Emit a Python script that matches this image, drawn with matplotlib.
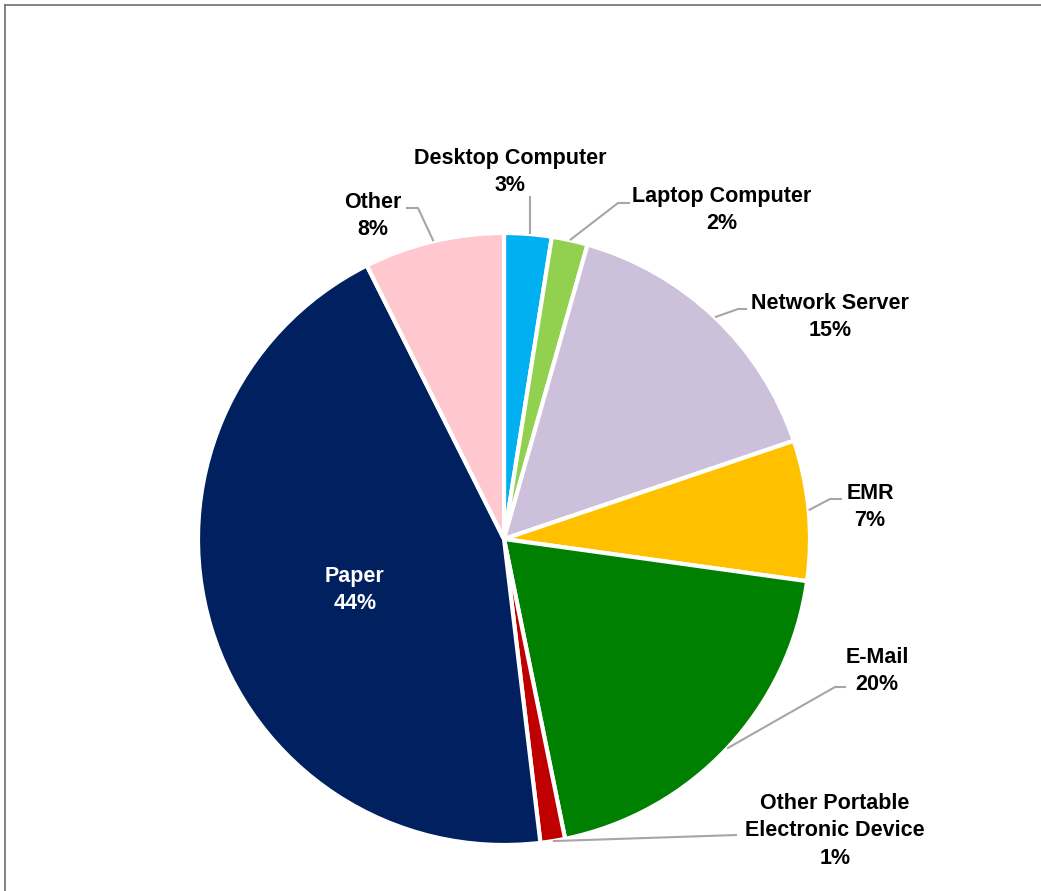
import matplotlib
matplotlib.use("Agg")
import matplotlib.pyplot as plt
import numpy as np
from matplotlib.lines import Line2D

# ---- data ----
categories = ["Desktop Computer", "Laptop Computer", "Network Server", "EMR",
              "E-Mail", "Other Portable\nElectronic Device", "Paper", "Other"]
shares = [2.5, 1.9, 15.4, 7.4, 19.6, 1.3, 44.5, 7.4]
pct_labels = ["3%", "2%", "15%", "7%", "20%", "1%", "44%", "8%"]
colors = ["#00B0F0", "#92D050", "#CCC0DA", "#FFC000",
          "#008000", "#C00000", "#002060", "#FFC7CE"]

W, H = 1041, 891
fig = plt.figure(figsize=(W / 100, H / 100), dpi=100)
ax = fig.add_axes([0, 0, 1, 1])

# pixel geometry of the pie
CX, CY, R = 504, 539, 306


def P(px, py):
    return ((px - CX) / R, (CY - py) / R)


wedges, _ = ax.pie(shares, colors=colors, startangle=90, counterclock=False,
                   radius=1.0, center=(0, 0),
                   wedgeprops=dict(edgecolor="white", linewidth=3))

ax.set_aspect("auto")
ax.set_xlim((0 - CX) / R, (W - CX) / R)
ax.set_ylim((CY - H) / R, CY / R)
ax.axis("off")

font = dict(family=["Liberation Sans", "DejaVu Sans"], fontweight="bold",
            fontsize=15.5)

# label centre positions (pixels) and leader elbows (pixels)
label_pos = [(510, 172), (722, 210), (830, 317), (870, 507),
             (877, 671), (835, 831), (355, 590), (373, 216)]
leaders = [
    [(530, 196)],
    [(618, 203), (630, 203)],
    [(738, 309), (747, 309)],
    [(830, 499), (842, 499)],
    [(835, 687), (846, 687)],
    [(737, 835)],
    None,
    [(418, 208), (406, 208)],
]

for i, w in enumerate(wedges):
    mid = np.deg2rad((w.theta1 + w.theta2) / 2)
    ax_, ay_ = np.cos(mid) * 1.0, np.sin(mid) * 1.0
    if leaders[i] is not None:
        pts = [(ax_, ay_)] + [P(*p) for p in leaders[i]]
        if i == 0:
            pts[0] = (pts[1][0], ay_)
        xs, ys = zip(*pts)
        ax.plot(xs, ys, color="#A6A6A6", lw=1.5, solid_capstyle="butt", zorder=1)
    tx, ty = P(*label_pos[i])
    txtcolor = "white" if i == 6 else "black"
    ax.text(tx, ty, f"{categories[i]}\n{pct_labels[i]}", ha="center",
            va="center", color=txtcolor, linespacing=1.38, **font)

# outer border (top and left visible)
fig.add_artist(Line2D([5 / W, 1], [1 - 5 / H, 1 - 5 / H], color="#6E6E6E",
                      lw=1.2, transform=fig.transFigure))
fig.add_artist(Line2D([5 / W, 5 / W], [0, 1 - 5 / H], color="#6E6E6E",
                      lw=1.2, transform=fig.transFigure))

fig.savefig("out.png", dpi=100, facecolor="white")
